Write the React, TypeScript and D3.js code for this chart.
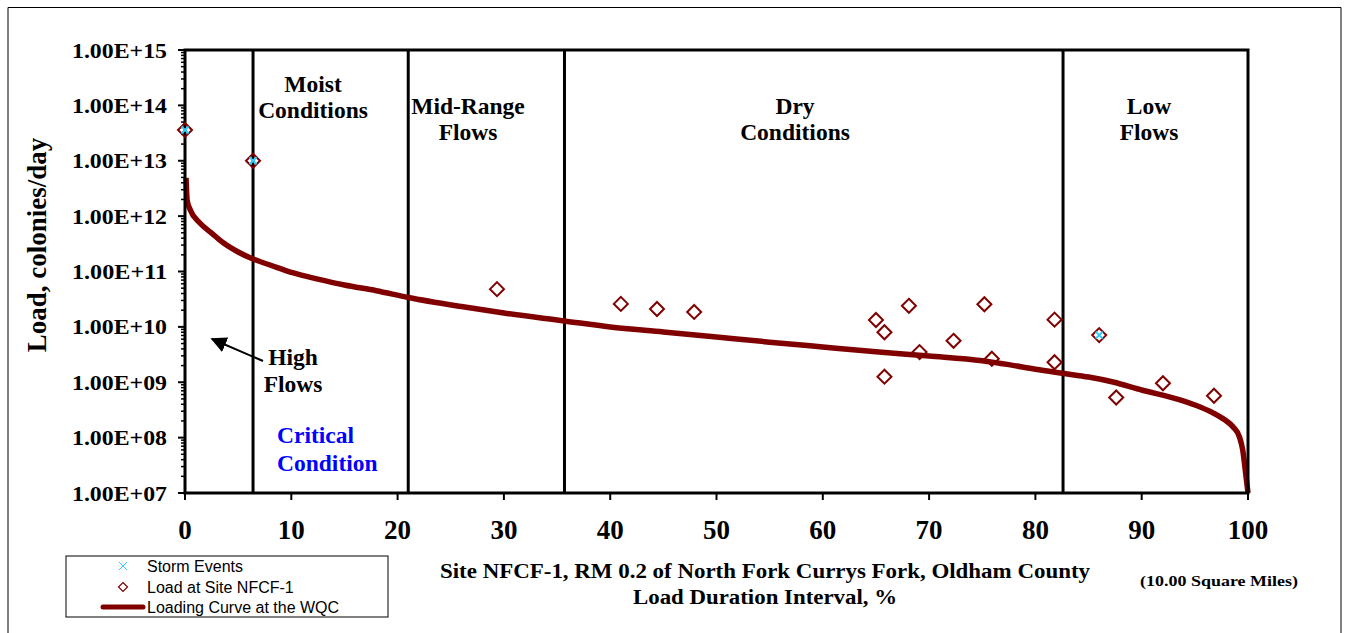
import React from "react";
import * as d3 from "d3";

// Loading curve at the WQC
const curvePct = [0.1, 0.2, 0.5, 1.4, 2.5, 3.6, 5, 6.4, 8, 10.2, 12.5, 15, 18, 21, 26, 30, 35.7, 40, 45, 50, 55, 60, 65, 70, 75, 77.5, 80, 82.7, 85, 87.3, 90, 93.6, 95.5, 96.7, 97.8, 98.6, 99.2, 99.5, 99.8, 100];
const curveLoad = [4.9e12, 1.95e12, 1.29e12, 7.5e11, 4.95e11, 3.3e11, 2.25e11, 1.68e11, 1.31e11, 9.4e10, 7.3e10, 5.7e10, 4.5e10, 3.4e10, 2.33e10, 1.78e10, 1.28e10, 9.95e9, 8.1e9, 6.56e9, 5.3e9, 4.33e9, 3.55e9, 2.98e9, 2.45e9, 2.08e9, 1.72e9, 1.44e9, 1.24e9, 1.01e9, 7.25e8, 4.8e8, 3.57e8, 2.8e8, 2.1e8, 1.56e8, 1.02e8, 6.0e7, 2.1e7, 1.0e7];

// Load at Site NFCF-1
const loadPct = [0, 6.4, 29.35, 41.0, 44.4, 47.9, 65.0, 65.8, 65.8, 68.1, 69.1, 72.3, 75.2, 75.9, 81.8, 81.8, 86.0, 87.6, 92.0, 96.8];
const loadVal = [3.6e13, 1.0e13, 4.8e10, 2.6e10, 2.1e10, 1.86e10, 1.33e10, 8.0e9, 1.26e9, 2.4e10, 3.5e9, 5.6e9, 2.56e10, 2.66e9, 1.35e10, 2.3e9, 7.1e9, 5.3e8, 9.6e8, 5.7e8];

// Storm Events
const stormPct = [0, 6.4, 86.0];
const stormVal = [3.6e13, 1.0e13, 7.1e9];

// Flow-zone boundaries
const zoneBounds = [6.4, 21.0, 35.7, 82.6];

const xTicks = [0, 10, 20, 30, 40, 50, 60, 70, 80, 90, 100];
const yExps = [7, 8, 9, 10, 11, 12, 13, 14, 15];

const W = 1348, H = 633;
const L = 185, R = 1248, T = 50, B = 493;
const SERIF = "'Liberation Serif', 'Times New Roman', serif";
const SANS = "'Liberation Sans', Arial, sans-serif";
const DR = "#800000";
const CY = "#33CCFF";

export default function App() {
  const x = d3.scaleLinear().domain([0, 100]).range([L, R]);
  const y = d3.scaleLog().domain([1e7, 1e15]).range([B, T]);

  const line = d3
    .line<number>()
    .x((_, i) => x(curvePct[i]))
    .y((d) => y(d))
    .curve(d3.curveMonotoneX);

  const minor: number[] = [];
  yExps.slice(0, -1).forEach((e) => {
    for (let k = 2; k <= 9; k++) minor.push(k * Math.pow(10, e));
  });

  const diamond = (cx: number, cy: number, r: number) =>
    `M${cx},${cy - r}L${cx + r},${cy}L${cx},${cy + r}L${cx - r},${cy}Z`;
  const cross = (cx: number, cy: number, r: number) =>
    `M${cx - r},${cy - r}L${cx + r},${cy + r}M${cx - r},${cy + r}L${cx + r},${cy - r}`;

  return (
    <div style={{ position: "absolute", left: 0, top: 0 }}>
      <svg width={W} height={H} style={{ display: "block", background: "#fff" }}>
        <rect x={0} y={0} width={W} height={H} fill="#fff" />
        {/* outer frame */}
        <path d={`M8,${H + 2}V7.5H1341V${H + 2}`} fill="none" stroke="#000" strokeWidth={1} />

        {/* y minor ticks */}
        {minor.map((v, i) => (
          <line key={"m" + i} x1={L - 4} x2={L} y1={y(v)} y2={y(v)} stroke="#000" strokeWidth={1.5} />
        ))}
        {/* y major ticks + labels */}
        {yExps.map((e) => (
          <g key={"y" + e}>
            <line x1={L - 7} x2={L} y1={y(Math.pow(10, e))} y2={y(Math.pow(10, e))} stroke="#000" strokeWidth={2} />
            <text
              x={167}
              y={y(Math.pow(10, e)) + 7.5}
              textAnchor="end"
              fontFamily={SERIF}
              fontWeight="bold"
              fontSize={22}
              textLength={95}
              lengthAdjust="spacingAndGlyphs"
            >
              {"1.00E+" + String(e).padStart(2, "0")}
            </text>
          </g>
        ))}
        {/* x ticks + labels */}
        {xTicks.map((t) => (
          <g key={"x" + t}>
            <line x1={x(t)} x2={x(t)} y1={B} y2={B + 7} stroke="#000" strokeWidth={2} />
            <text x={x(t)} y={539} textAnchor="middle" fontFamily={SERIF} fontWeight="bold" fontSize={27}>
              {t}
            </text>
          </g>
        ))}

        {/* zone boundaries */}
        {zoneBounds.map((b, i) => (
          <line key={"z" + i} x1={x(b)} x2={x(b)} y1={T} y2={B} stroke="#000" strokeWidth={3} />
        ))}

        {/* loading curve */}
        <path d={line(curveLoad) || ""} fill="none" stroke={DR} strokeWidth={5.5} strokeLinejoin="round" />

        {/* plot border */}
        <rect x={L} y={T} width={R - L} height={B - T} fill="none" stroke="#000" strokeWidth={3} />

        {/* load points */}
        {loadVal.map((v, i) => (
          <path key={"p" + i} d={diamond(x(loadPct[i]), y(v), 7)} fill="none" stroke={DR} strokeWidth={2} />
        ))}
        {/* storm events */}
        {stormVal.map((v, i) => (
          <path key={"s" + i} d={cross(x(stormPct[i]), y(v), 3.5)} fill="none" stroke={CY} strokeWidth={2} />
        ))}

        {/* zone labels */}
        <g fontFamily={SERIF} fontWeight="bold" fontSize={23.5} textAnchor="middle" fill="#000">
          <text x={313} y={92}>Moist</text>
          <text x={313} y={118}>Conditions</text>
          <text x={468} y={114}>Mid-Range</text>
          <text x={468} y={140}>Flows</text>
          <text x={795} y={114}>Dry</text>
          <text x={795} y={140}>Conditions</text>
          <text x={1149} y={114}>Low</text>
          <text x={1149} y={140}>Flows</text>
          <text x={293} y={365}>High</text>
          <text x={293} y={392}>Flows</text>
        </g>
        <g fontFamily={SERIF} fontWeight="bold" fontSize={23.5} fill="#0000FF">
          <text x={277} y={443}>Critical</text>
          <text x={277} y={471}>Condition</text>
        </g>
        {/* arrow */}
        <defs>
          <marker id="ah" viewBox="0 0 10 10" refX={9} refY={5} markerWidth={8} markerHeight={8} orient="auto">
            <path d="M0,0L10,5L0,10Z" fill="#000" />
          </marker>
        </defs>
        <line x1={263} y1={361} x2={212} y2={339} stroke="#000" strokeWidth={2} markerEnd="url(#ah)" />

        {/* y axis title */}
        <text
          transform={`translate(46,245) rotate(-90)`}
          textAnchor="middle"
          fontFamily={SERIF}
          fontWeight="bold"
          fontSize={27}
        >
          Load, colonies/day
        </text>

        {/* x axis titles */}
        <text x={765} y={578} textAnchor="middle" fontFamily={SERIF} fontWeight="bold" fontSize={20} textLength={650} lengthAdjust="spacingAndGlyphs">
          Site NFCF-1, RM 0.2 of North Fork Currys Fork, Oldham County
        </text>
        <text x={765} y={604} textAnchor="middle" fontFamily={SERIF} fontWeight="bold" fontSize={20} textLength={264} lengthAdjust="spacingAndGlyphs">
          Load Duration Interval, %
        </text>
        <text x={1219} y={586} textAnchor="middle" fontFamily={SERIF} fontWeight="bold" fontSize={15} textLength={158} lengthAdjust="spacingAndGlyphs">
          (10.00 Square Miles)
        </text>

        {/* legend */}
        <rect x={66} y={556} width={322} height={61} fill="#fff" stroke="#000" strokeWidth={1} />
        <path d={cross(123, 566, 4)} stroke={CY} strokeWidth={1} fill="none" />
        <path d={diamond(123, 587, 4.5)} stroke={DR} strokeWidth={1.2} fill="none" />
        <line x1={103} x2={143} y1={607} y2={607} stroke={DR} strokeWidth={5} strokeLinecap="round" />
        <g fontFamily={SANS} fontSize={16} fill="#000">
          <text x={147} y={572}>Storm Events</text>
          <text x={147} y={593}>Load at Site NFCF-1</text>
          <text x={147} y={613}>Loading Curve at the WQC</text>
        </g>
      </svg>
    </div>
  );
}
